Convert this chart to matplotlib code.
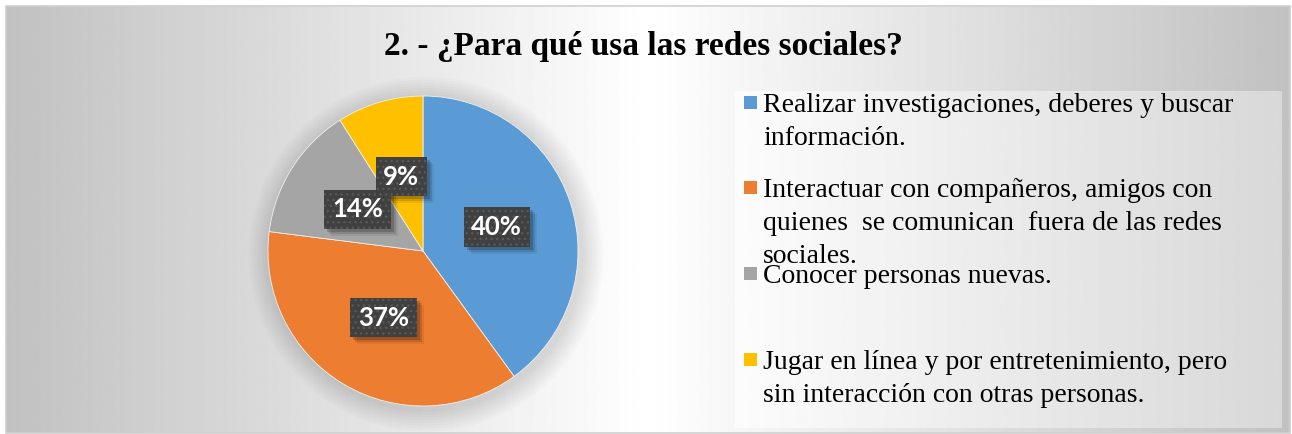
import numpy as np
import matplotlib
matplotlib.use("Agg")
import matplotlib.pyplot as plt
from matplotlib.patches import Rectangle, Circle

# ---- data ----
title = "2. - ¿Para qué usa las redes sociales?"
categories = [
    "Realizar investigaciones, deberes y buscar\ninformación.",
    "Interactuar con compañeros, amigos con\nquienes  se comunican  fuera de las redes\nsociales.",
    "Conocer personas nuevas.",
    "Jugar en línea y por entretenimiento, pero\nsin interacción con otras personas.",
]
values = [40, 37, 14, 9]
colors = ["#5B9BD5", "#ED7D31", "#A5A5A5", "#FFC000"]

# ---- layout (pixels) ----
W, H = 1292, 434
fig = plt.figure(figsize=(W / 100, H / 100), dpi=100)
fig.patch.set_facecolor("white")

bg = fig.add_axes([0, 0, 1, 1])
bg.set_xlim(0, W)
bg.set_ylim(H, 0)
bg.axis("off")

# outer chart background: horizontal gradient, white centre, grey edges
fx0, fx1, fy0, fy1 = 6, 1290, 6, 433
xs = np.linspace(fx0, fx1, 600)
cx = (fx0 + fx1) / 2
d = np.abs(xs - cx) / ((fx1 - fx0) / 2)
v = (255 - 62 * d) / 255.0
grad = np.tile(v, (10, 1))
bg.imshow(grad, cmap="gray", vmin=0, vmax=1, extent=[fx0, fx1, fy1, fy0],
          aspect="auto", zorder=0, interpolation="bilinear")
bg.add_patch(Rectangle((fx0, fy0), fx1 - fx0, fy1 - fy0, fill=False,
                       ec="#cfcfcf", lw=1.2, zorder=1))

# legend box gradient
lx0, lx1, ly0, ly1 = 735, 1282, 91, 428
lxs = np.linspace(0, 1, 400)
lv = (252 - 36 * lxs) / 255.0
bg.imshow(np.tile(lv, (10, 1)), cmap="gray", vmin=0, vmax=1,
          extent=[lx0, lx1, ly1, ly0], aspect="auto", zorder=1,
          interpolation="bilinear")

# title
bg.text(643, 55, title, ha="center", va="baseline", fontsize=24,
        fontweight="bold", family="Liberation Serif", color="#000000", zorder=5)

# legend entries (manual placement, matching reference)
first_baselines = [112, 197, 283, 369]
line_step = 33
for lab, col, b in zip(categories, colors, first_baselines):
    bg.add_patch(Rectangle((744, b - 16), 13, 13, fc=col, ec="none", zorder=4))
    for i, line in enumerate(lab.split("\n")):
        bg.text(763, b + i * line_step, line, ha="left", va="baseline",
                fontsize=20, family="Liberation Serif", color="#000000",
                zorder=5)

# ---- pie ----
pcx, pcy, R = 423, 251, 155
lim = 1.2
side = 2 * lim * R
ax = fig.add_axes([(pcx - side / 2) / W, (H - pcy - side / 2) / H, side / W, side / H])
ax.patch.set_alpha(0)
ax.set_xlim(-lim, lim)
ax.set_ylim(-lim, lim)
ax.set_aspect("equal")
ax.axis("off")

# soft shadow/glow around the pie
for k in range(8):
    ax.add_patch(Circle((0.02, -0.02), 1.0 + 0.018 * (k + 1), fc="#000000",
                        alpha=0.016, ec="none", zorder=0))

lab_fs = 18.5
wedges, texts, autotexts = ax.pie(
    values, colors=colors, startangle=90, counterclock=False,
    autopct=lambda p: f"{p:.0f}%", pctdistance=0.5,
    wedgeprops=dict(edgecolor="#f0f0f0", linewidth=0.6),
    textprops=dict(color="white", fontsize=lab_fs, fontweight="bold", family="Lato"),
)
ax.set_xlim(-lim, lim)
ax.set_ylim(-lim, lim)
for w in wedges:
    w.set_zorder(1)
for t in autotexts:
    t.set_zorder(4)
    t.set_bbox(dict(boxstyle="square,pad=0.3", fc="#404040", ec="#585858",
                    lw=0, hatch="..."))

# soft shadows behind the label boxes (as patches, sized from rendered boxes)
fig.canvas.draw()
inv = ax.transData.inverted()
for t in autotexts:
    ext = t.get_bbox_patch().get_window_extent()
    for off, a in [(3, 0.18), (5, 0.12), (7, 0.07)]:
        (x0, y0) = inv.transform((ext.x0 + off, ext.y0 - off))
        (x1, y1) = inv.transform((ext.x1 + off, ext.y1 - off))
        ax.add_patch(Rectangle((x0, y0), x1 - x0, y1 - y0, fc="#000000",
                               alpha=a, lw=0, zorder=3))

fig.savefig("out.png", dpi=100, facecolor=fig.get_facecolor())
